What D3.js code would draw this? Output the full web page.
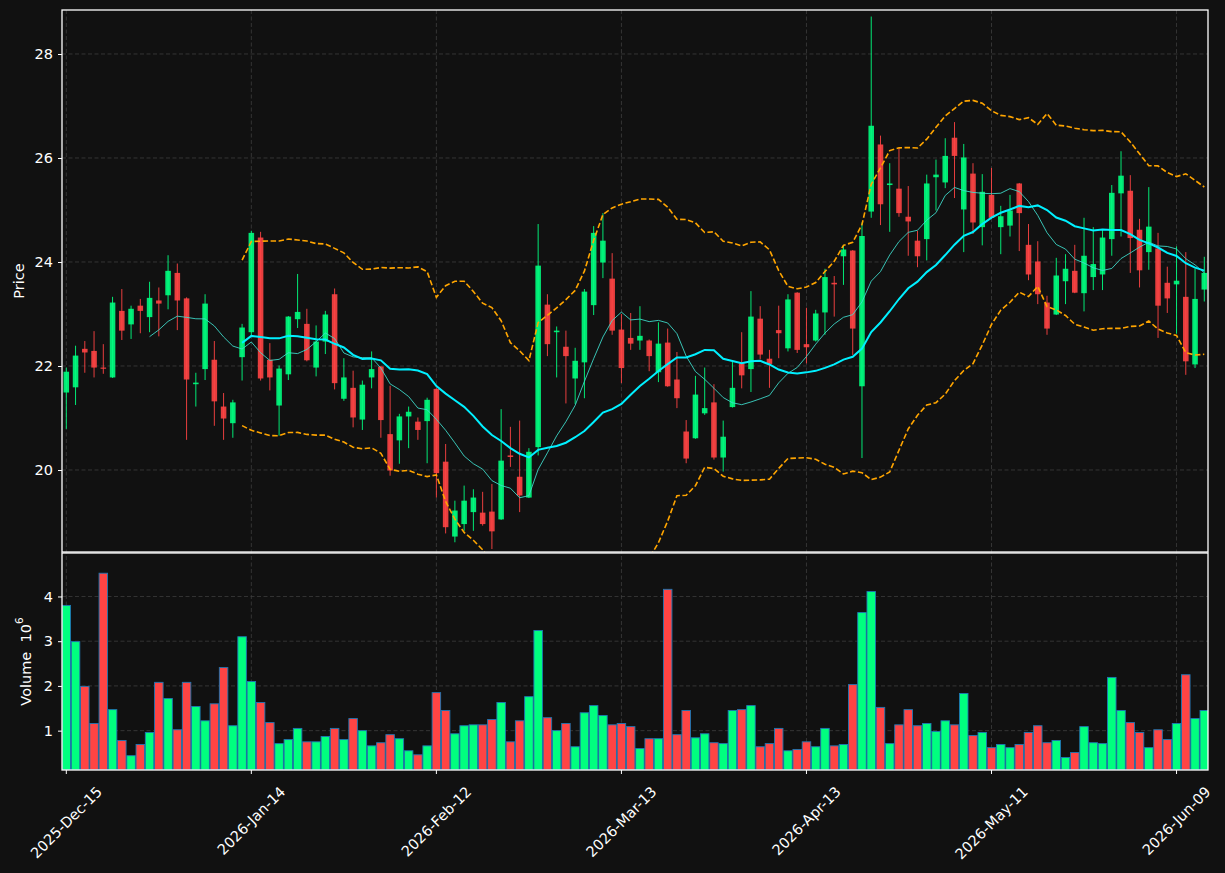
<!DOCTYPE html>
<html>
<head>
<meta charset="utf-8">
<script src="https://cdn.jsdelivr.net/npm/d3@7"></script>
<style>
  body { margin: 0; background: #111111; }
  svg { display: block; font-family: "DejaVu Sans", sans-serif; }
  text { white-space: pre; }
</style>
</head>
<body>
<div id="chart"></div>
<script>
// x ticks: every 20 trading sessions
var tickIdx = [0, 20, 40, 60, 80, 100, 120];
var tickLabels = ["2025-Dec-15", "2026-Jan-14", "2026-Feb-12", "2026-Mar-13", "2026-Apr-13", "2026-May-11", "2026-Jun-09"];
var priceTicks = [20, 22, 24, 26, 28];
var volTicks = [1, 2, 3, 4];

// daily OHLC
var open = [21.49,21.59,22.33,22.29,21.97,21.78,23.06,22.80,23.16,22.94,
  23.26,23.36,23.79,23.30,21.65,21.94,22.12,21.22,20.90,22.17,
  22.65,24.47,22.12,21.24,21.84,22.90,22.81,21.97,22.47,23.38,
  21.37,21.58,20.97,21.78,21.99,20.69,20.57,21.03,20.93,20.94,
  21.56,20.16,18.72,18.96,19.19,19.18,19.20,19.05,20.28,19.87,
  19.47,20.44,23.18,22.65,22.37,21.76,22.07,23.17,23.99,23.68,
  22.70,22.54,22.49,22.49,21.88,22.45,21.74,20.74,20.61,21.09,
  21.30,20.24,21.21,22.05,21.94,22.91,22.14,22.69,22.34,23.41,
  22.42,22.49,23.03,23.60,24.11,24.22,21.61,24.97,26.26,25.48,
  25.41,24.87,24.41,24.44,25.63,25.53,26.39,25.01,25.70,24.67,
  25.29,24.67,24.70,25.51,24.33,24.01,23.22,22.99,23.63,23.83,
  23.40,23.71,23.76,24.44,25.32,25.37,24.62,24.19,24.26,23.60,
  23.57,23.33,22.03,23.47];
var high = [21.97,22.39,22.48,22.67,22.42,23.33,23.48,23.16,23.29,23.62,
  23.51,24.13,23.97,23.32,21.87,23.38,22.48,21.48,21.35,22.81,
  24.60,24.58,22.44,22.01,22.96,23.77,23.10,22.78,23.06,23.49,
  22.15,21.91,21.72,22.28,22.00,21.62,21.08,21.22,21.01,21.39,
  21.57,20.50,19.41,19.70,19.63,19.58,19.73,21.17,20.83,20.95,
  20.42,24.73,23.38,22.76,22.68,22.35,23.48,24.69,24.94,24.17,
  23.00,23.02,23.15,22.51,22.84,22.72,22.27,20.96,21.81,21.97,
  21.65,20.95,22.08,22.65,23.44,23.15,22.31,23.16,23.38,23.42,
  23.12,23.08,23.87,23.73,24.33,24.23,24.76,28.72,26.43,25.90,
  26.19,25.46,24.60,25.68,25.97,26.38,26.69,26.27,25.90,25.69,
  25.81,25.08,25.29,25.52,24.73,24.40,23.35,24.08,24.15,24.33,
  24.85,24.67,24.62,25.48,26.13,25.67,24.83,25.44,24.56,23.91,
  24.30,24.19,23.87,24.10];
var low = [20.79,21.25,21.87,21.78,21.85,21.77,22.50,22.52,22.63,22.65,
  22.57,23.09,22.69,20.58,21.22,21.73,20.85,20.58,20.62,21.72,
  22.57,21.72,21.53,20.66,21.73,22.73,22.09,21.80,22.23,21.55,
  21.33,20.82,20.77,21.57,20.62,19.89,20.12,20.42,20.58,20.13,
  19.47,18.78,18.61,18.83,18.83,18.93,18.48,19.04,20.06,19.19,
  19.46,20.28,22.19,21.78,21.28,21.27,21.38,22.98,23.69,22.60,
  21.67,22.31,22.31,21.90,21.69,21.60,21.19,20.13,20.60,21.06,
  20.20,19.97,21.20,21.57,21.50,22.13,21.58,22.15,22.28,22.25,
  22.05,22.47,22.60,22.95,23.56,22.21,20.23,24.85,24.71,24.58,
  24.87,24.12,23.90,24.03,24.99,25.42,25.23,24.19,24.54,24.32,
  24.84,24.15,24.49,24.21,23.65,23.19,22.60,22.98,23.19,23.40,
  23.05,23.46,23.46,24.12,24.49,23.79,23.51,23.85,22.54,23.02,
  22.62,21.83,21.96,23.24];
var close = [21.89,22.20,22.26,21.97,21.95,23.22,22.68,23.10,23.06,23.31,
  23.20,23.83,23.26,21.74,21.68,23.20,21.32,20.99,21.30,22.74,
  24.56,21.76,21.78,21.95,22.95,23.04,22.11,22.47,22.99,21.67,
  21.78,21.01,21.64,21.94,20.96,19.99,21.03,21.12,20.77,21.35,
  19.94,18.90,19.22,19.41,19.47,18.96,18.82,20.18,20.25,19.51,
  20.35,23.93,22.42,22.68,22.19,22.10,23.43,24.56,24.41,22.68,
  21.96,22.43,22.58,22.19,22.43,21.61,21.38,20.22,21.45,21.19,
  20.24,20.64,21.58,21.82,22.95,22.22,22.04,22.63,23.28,22.31,
  22.36,23.01,23.71,23.57,24.24,22.72,24.50,26.62,25.11,25.51,
  24.94,24.78,24.11,25.51,25.68,26.04,26.04,26.01,24.76,25.35,
  24.85,24.88,24.99,24.94,23.76,23.38,22.72,23.74,23.87,23.41,
  24.12,23.96,24.47,25.33,25.66,24.46,23.84,24.68,23.16,23.30,
  23.64,22.09,23.29,23.79];
// volume in millions
var volume = [3.80,2.99,1.99,1.16,4.52,1.47,0.78,0.44,0.69,0.96,
  2.08,1.72,1.02,2.08,1.54,1.22,1.60,2.41,1.11,3.10,
  2.10,1.63,1.18,0.71,0.80,1.05,0.75,0.75,0.87,1.05,
  0.80,1.27,1.00,0.66,0.73,0.91,0.82,0.55,0.46,0.66,
  1.85,1.45,0.93,1.11,1.13,1.13,1.25,1.63,0.75,1.22,
  1.76,3.24,1.29,1.00,1.16,0.64,1.40,1.56,1.34,1.13,
  1.16,1.09,0.60,0.82,0.82,4.16,0.91,1.45,0.84,0.93,
  0.73,0.71,1.45,1.47,1.56,0.64,0.71,1.05,0.55,0.58,
  0.75,0.64,1.05,0.66,0.69,2.03,3.64,4.11,1.52,0.71,
  1.13,1.47,1.11,1.16,0.98,1.22,1.13,1.83,0.89,0.96,
  0.62,0.69,0.62,0.69,0.96,1.11,0.73,0.78,0.40,0.51,
  1.09,0.73,0.71,2.19,1.45,1.18,0.96,0.62,1.02,0.80,
  1.16,2.25,1.27,1.45];

var upColor = "#00ff7f", downColor = "#ff4444";
var width = 1225, height = 873;
var left = 62, right = 1208;
var pTop = 10, pBot = 552, vTop = 553, vBot = 770;
var fontSize = 14.5;

var n = close.length;
var bars = d3.range(n).map(function(i) {
  return { i: i, o: open[i], h: high[i], l: low[i], c: close[i], v: volume[i], up: close[i] >= open[i] };
});

function sma(arr, p) {
  return arr.map(function(d, i) {
    if (i < p - 1) return null;
    return d3.mean(arr.slice(i - p + 1, i + 1));
  });
}
function bands(arr, p, k) {
  var mid = sma(arr, p);
  return arr.map(function(d, i) {
    if (mid[i] == null) return null;
    var win = arr.slice(i - p + 1, i + 1);
    var sd = Math.sqrt(d3.mean(win, function(v) { return (v - mid[i]) * (v - mid[i]); }));
    return { up: mid[i] + k * sd, lo: mid[i] - k * sd };
  });
}
var ma10 = sma(close, 10);
var ma20 = sma(close, 20);
var bb = bands(close, 20, 2);

var svg = d3.select("#chart").append("svg")
  .attr("width", width).attr("height", height);
svg.append("rect").attr("width", width).attr("height", height).attr("fill", "#111111");

var x = d3.scaleLinear().domain([-0.465, 123.4]).range([left, right]);
var yP = d3.scaleLinear().domain([18.423, 28.846]).range([pBot, pTop]);
var yV = d3.scaleLinear().domain([0.3 * d3.min(volume), 1.1 * d3.max(volume)]).range([vBot, vTop]);
var step = x(1) - x(0);

svg.append("clipPath").attr("id", "clipP").append("rect")
  .attr("x", left).attr("y", pTop).attr("width", right - left).attr("height", pBot - pTop);
svg.append("clipPath").attr("id", "clipV").append("rect")
  .attr("x", left).attr("y", vTop).attr("width", right - left).attr("height", vBot - vTop);

// grid
var grid = svg.append("g").attr("stroke", "#3d3d3d").attr("stroke-width", 0.8).attr("stroke-dasharray", "4,2.5");
grid.selectAll(".gx").data(tickIdx).enter().append("line")
  .attr("x1", function(d) { return x(d); }).attr("x2", function(d) { return x(d); })
  .attr("y1", pTop).attr("y2", vBot);
grid.selectAll(".gp").data(priceTicks).enter().append("line")
  .attr("x1", left).attr("x2", right)
  .attr("y1", function(d) { return yP(d); }).attr("y2", function(d) { return yP(d); });
grid.selectAll(".gv").data(volTicks).enter().append("line")
  .attr("x1", left).attr("x2", right)
  .attr("y1", function(d) { return yV(d); }).attr("y2", function(d) { return yV(d); });

// candles
var cg = svg.append("g").attr("clip-path", "url(#clipP)");
var bw = step * 0.6;
cg.selectAll(".wick").data(bars).enter().append("line")
  .attr("x1", function(d) { return x(d.i); }).attr("x2", function(d) { return x(d.i); })
  .attr("y1", function(d) { return yP(d.h); }).attr("y2", function(d) { return yP(d.l); })
  .attr("stroke", function(d) { return d.up ? upColor : downColor; })
  .attr("stroke-opacity", 0.9).attr("stroke-width", 1);
cg.selectAll(".body").data(bars).enter().append("rect")
  .attr("x", function(d) { return x(d.i) - bw / 2; })
  .attr("width", bw)
  .attr("y", function(d) { return yP(Math.max(d.o, d.c)); })
  .attr("height", function(d) { return Math.max(1.2, Math.abs(yP(d.o) - yP(d.c))); })
  .attr("fill", function(d) { return d.up ? upColor : downColor; })
  .attr("fill-opacity", 0.9);

// overlays
var lg = svg.append("g").attr("clip-path", "url(#clipP)").attr("fill", "none");
function lineOf(arr) {
  return d3.line()
    .defined(function(d) { return d != null; })
    .x(function(d, i) { return x(i); })
    .y(function(d) { return yP(d); })(arr);
}
lg.append("path").attr("d", lineOf(bb.map(function(d) { return d ? d.up : null; })))
  .attr("stroke", "#ffa500").attr("stroke-width", 1.6).attr("stroke-dasharray", "5.5,2.5");
lg.append("path").attr("d", lineOf(bb.map(function(d) { return d ? d.lo : null; })))
  .attr("stroke", "#ffa500").attr("stroke-width", 1.6).attr("stroke-dasharray", "5.5,2.5");
lg.append("path").attr("d", lineOf(ma10))
  .attr("stroke", "#40e0d0").attr("stroke-opacity", 0.85).attr("stroke-width", 1);
lg.append("path").attr("d", lineOf(ma20))
  .attr("stroke", "#00f0ff").attr("stroke-width", 2);

// volume
var vg = svg.append("g").attr("clip-path", "url(#clipV)");
var vw = step * 0.92;
vg.selectAll(".vol").data(bars).enter().append("rect")
  .attr("x", function(d) { return x(d.i) - vw / 2; })
  .attr("width", vw)
  .attr("y", function(d) { return yV(d.v); })
  .attr("height", function(d) { return vBot - yV(d.v); })
  .attr("fill", function(d) { return d.up ? upColor : downColor; })
  .attr("stroke", "#1f77b4").attr("stroke-width", 0.9);

// spines
[[pTop, pBot], [vTop, vBot]].forEach(function(p) {
  svg.append("rect").attr("x", left).attr("y", p[0]).attr("width", right - left).attr("height", p[1] - p[0])
    .attr("fill", "none").attr("stroke", "#ffffff").attr("stroke-width", 1.3);
});

// y axes
function styleAxis(g) {
  g.select(".domain").remove();
  g.selectAll(".tick line").attr("stroke", "#ffffff").attr("stroke-width", 1);
  g.selectAll(".tick text").attr("fill", "#ffffff").attr("font-size", fontSize)
    .attr("font-family", "DejaVu Sans, sans-serif");
}
svg.append("g").attr("transform", "translate(" + left + ",0)")
  .call(d3.axisLeft(yP).tickValues(priceTicks).tickSize(4).tickPadding(5).tickFormat(d3.format("d")))
  .call(styleAxis);
svg.append("g").attr("transform", "translate(" + left + ",0)")
  .call(d3.axisLeft(yV).tickValues(volTicks).tickSize(4).tickPadding(5).tickFormat(d3.format("d")))
  .call(styleAxis);

svg.append("text").attr("transform", "translate(18.5," + ((pTop + pBot) / 2) + ") rotate(-90)")
  .attr("text-anchor", "middle").attr("dominant-baseline", "central")
  .attr("fill", "#ffffff").attr("font-size", fontSize).text("Price");
var vl = svg.append("text").attr("transform", "translate(26," + ((vTop + vBot) / 2) + ") rotate(-90)")
  .attr("text-anchor", "middle").attr("dominant-baseline", "central")
  .attr("fill", "#ffffff").attr("font-size", fontSize);
vl.append("tspan").text("Volume  10");
vl.append("tspan").attr("dy", -7).attr("font-size", 10.5).text("6");

// x axis ticks and rotated labels
var xg = svg.append("g");
xg.selectAll(".xt").data(tickIdx).enter().append("line")
  .attr("x1", function(d) { return x(d); }).attr("x2", function(d) { return x(d); })
  .attr("y1", vBot).attr("y2", vBot + 4)
  .attr("stroke", "#ffffff").attr("stroke-width", 1);
tickIdx.forEach(function(d, k) {
  var t = xg.append("text").attr("fill", "#ffffff").attr("font-size", fontSize)
    .attr("text-anchor", "middle").attr("dominant-baseline", "central")
    .text(tickLabels[k]);
  var L = t.node().getComputedTextLength();
  var half = (L + 12) / (2 * Math.SQRT2);
  t.attr("transform", "translate(" + x(d) + "," + (vBot + 15 + half) + ") rotate(-45)");
});
</script>
</body>
</html>
